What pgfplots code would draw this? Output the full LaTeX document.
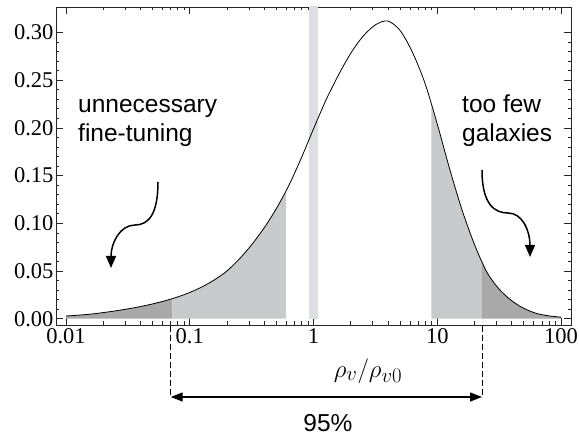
\documentclass[border=0pt]{standalone}
\usepackage{fontspec}
\setmainfont{Liberation Serif}
\newfontfamily\annsans{Liberation Sans}
\usepackage{pgfplots}
\usepackage{pgfplotstable}
\pgfplotsset{compat=1.18}
\usepgfplotslibrary{fillbetween}
\usetikzlibrary{arrows.meta}

\definecolor{darkshade}{RGB}{169,169,170}
\definecolor{lightshade}{RGB}{201,202,204}
\definecolor{bandshade}{RGB}{221,222,225}

% probability density vs rho_v/rho_v0
\pgfplotstableread{
x        p
0.01     0.0028
0.012589 0.0037
0.015849 0.0048
0.019953 0.0064
0.025119 0.0082
0.031623 0.0103
0.039811 0.0127
0.050119 0.0155
0.063096 0.0188
0.079433 0.0227
0.1      0.0275
0.12589  0.0334
0.15849  0.0408
0.19953  0.0500
0.25119  0.0625
0.31623  0.0775
0.39811  0.0950
0.50119  0.1155
0.63096  0.1395
0.79433  0.1680
1.0      0.1990
1.2589   0.2290
1.5849   0.2550
1.9953   0.2780
2.5119   0.2960
3.1623   0.3080
3.9811   0.3120
5.0119   0.3020
6.3096   0.2790
7.9433   0.2470
10.0     0.2040
12.589   0.1570
15.849   0.1140
19.953   0.0780
25.119   0.0490
31.623   0.0310
39.811   0.0190
50.119   0.0108
63.096   0.0056
79.433   0.0030
100.0    0.0016
}\curvedata

\begin{document}
\begin{tikzpicture}
\begin{axis}[
    name=ax,
    scale only axis,
    width=515pt, height=318pt,
    xmode=log,
    xmin=0.0083, xmax=120.4,
    ymin=-0.0066, ymax=0.3267,
    xtick={0.01,0.1,1,10,100},
    xticklabels={0.01,0.1,1,10,100},
    minor xtick={0.02,0.03,0.04,0.05,0.06,0.07,0.08,0.09,
                 0.2,0.3,0.4,0.5,0.6,0.7,0.8,0.9,
                 2,3,4,5,6,7,8,9,20,30,40,50,60,70,80,90},
    ytick={0,0.05,0.1,0.15,0.2,0.25,0.3},
    minor y tick num=4,
    yticklabel style={xshift=1pt, /pgf/number format/.cd, fixed, fixed zerofill, precision=2},
    /pgf/number format/assume math mode=true,
    tick label style={font=\fontsize{22.5}{25}\selectfont},
    tick align=inside,
    xtick pos=both, ytick pos=both,
    xticklabel pos=lower, yticklabel pos=left,
    major tick length=7pt, minor tick length=3.5pt,
    tick style={line width=0.6pt, black!85},
    axis line style={line width=0.8pt, black!85},
]

% vertical band around 1
\addplot[draw=none, fill=bandshade] coordinates {(0.916,0.34) (1.09,0.34)} \closedcycle;

\addplot[draw=none, name path=curve, smooth, tension=0.5] table[x=x, y=p] {\curvedata};
\addplot[draw=none, name path=base] coordinates {(0.01,0) (100,0)};

\addplot[darkshade, draw=none] fill between[of=curve and base,
    soft clip={(axis cs:0.005,-1) rectangle (axis cs:0.0725,1)}];
\addplot[lightshade, draw=none] fill between[of=curve and base,
    soft clip={(axis cs:0.0725,-1) rectangle (axis cs:0.598,1)}];
\addplot[lightshade, draw=none] fill between[of=curve and base,
    soft clip={(axis cs:8.95,-1) rectangle (axis cs:22.9,1)}];
\addplot[darkshade, draw=none] fill between[of=curve and base,
    soft clip={(axis cs:22.9,-1) rectangle (axis cs:200,1)}];

\addplot[black, line width=0.8pt, smooth, tension=0.5] table[x=x, y=p] {\curvedata};

\end{axis}

\begin{scope}[shift={(ax.south west)}, x=1pt, y=1pt]
  % annotations
  \node[anchor=base west, font=\annsans\fontsize{24.5}{28}\selectfont, inner sep=0pt] at (22,212) {unnecessary};
  \node[anchor=base west, font=\annsans\fontsize{24.5}{28}\selectfont, inner sep=0pt] at (22,183) {fine-tuning};
  \node[anchor=base west, font=\annsans\fontsize{24.5}{28}\selectfont, inner sep=0pt] at (406,212) {too few};
  \node[anchor=base west, font=\annsans\fontsize{24.5}{28}\selectfont, inner sep=0pt] at (406,183) {galaxies};

  \draw[line width=1.5pt, -{Triangle[length=12pt,width=10pt]}]
    (102,143) .. controls (102,110) and (92,100) .. (79,100)
              .. controls (64,100) and (55,82) .. (55,57);
  \draw[line width=1.5pt, -{Triangle[length=12pt,width=10pt]}]
    (426,155) .. controls (426,120) and (439,112) .. (452,112)
              .. controls (466,112) and (474,95) .. (474,68);

  % x label
  \node[font=\fontsize{30}{34}\selectfont] at (312,-46) {$\rho_v/\rho_{v0}$};

  % 95% interval
  \draw[line width=1pt, dash pattern=on 6pt off 3pt] (114.7,-1) -- (114.7,-72);
  \draw[line width=1pt, dash pattern=on 6pt off 3pt] (426,-1) -- (426,-72);
  \draw[line width=1.3pt, {Triangle[length=12pt,width=9pt]}-{Triangle[length=12pt,width=9pt]}]
    (114.7,-72) -- (426,-72);
  \node[anchor=base, inner sep=0pt, font=\annsans\fontsize{24.5}{28}\selectfont] at (272,-107) {95\%};

  \pgfresetboundingbox
  \path (-56,-111) rectangle (523,325);
\end{scope}
\end{tikzpicture}
\end{document}
